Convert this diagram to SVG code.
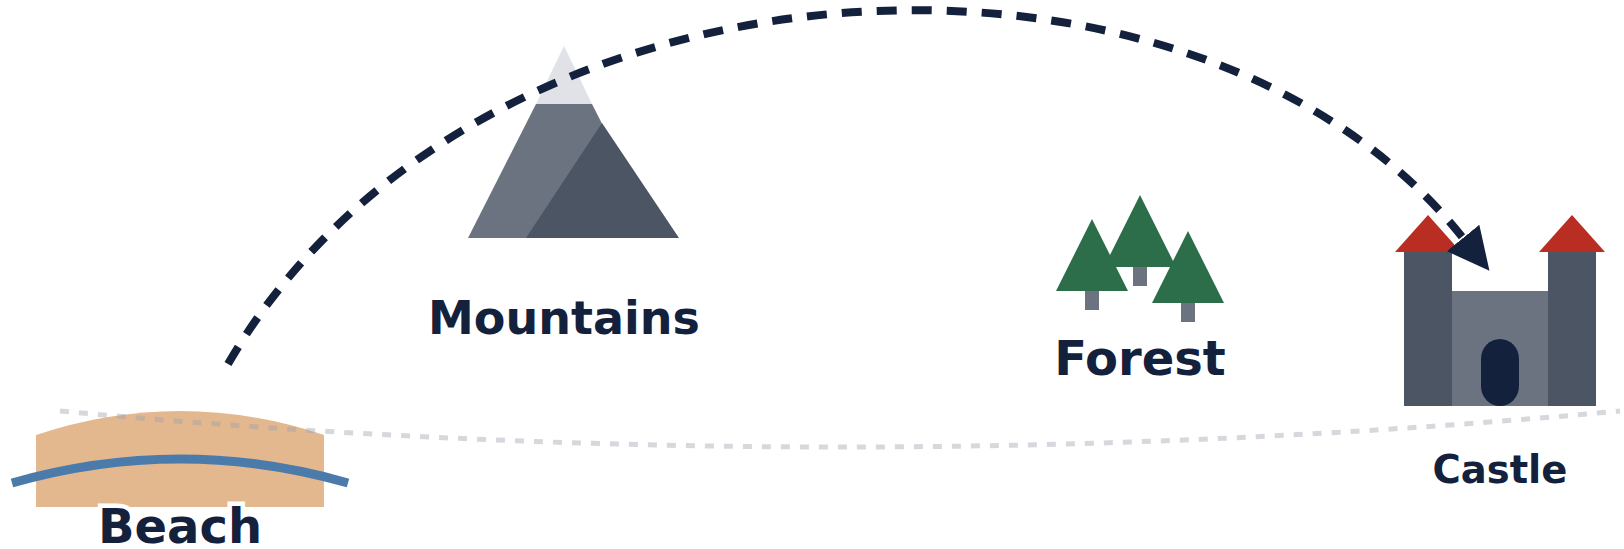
<svg xmlns="http://www.w3.org/2000/svg" width="1624" height="549" viewBox="0 0 1624 549">
  <style>
    text { font-family: "DejaVu Sans", "Liberation Sans", sans-serif; font-weight: 700; fill: #14213d; text-anchor: middle; }
    .lg { font-size: 48px; }
    .md { font-size: 46px; }
    .sm { font-size: 38.5px; }
    .leaf { fill: #2d6e4a; }
    .trunk { fill: #6b7280; }
    .tower { fill: #4b5563; }
    .roof { fill: #b92d22; }
  </style>
  <defs>
    <marker id="arrow" markerUnits="userSpaceOnUse" markerWidth="42" markerHeight="42" viewBox="0 0 10 10" refX="0" refY="5" orient="51">
      <path d="M0 0L10 5L0 10z" fill="#14213d"/>
    </marker>
  </defs>
  <rect width="1624" height="549" fill="#ffffff"/>
  <g id="beach">
    <path d="M36 435Q180 387 324 435V507H36z" fill="#e4b88f"/>
    <path d="M12 483Q180 435 348 483" fill="none" stroke="#4a7bab" stroke-width="9"/>
    <text class="lg" x="180" y="543" stroke="#ffffff" stroke-width="9" paint-order="stroke">Beach</text>
  </g>
  <g id="mountains">
    <path d="M536 104H592L660 238H468z" fill="#6b7280"/>
    <path d="M602 123L679 238H526z" fill="#4b5563"/>
    <path d="M564 46L592 104H536z" fill="#e0e2e7"/>
    <text class="md" x="564" y="334">Mountains</text>
  </g>
  <g id="forest">
    <rect class="trunk" x="1133" y="266" width="14" height="20"/>
    <path class="leaf" d="M1140 195L1176 267H1104z"/>
    <rect class="trunk" x="1085" y="290" width="14" height="20"/>
    <path class="leaf" d="M1092 219L1128 291H1056z"/>
    <rect class="trunk" x="1181" y="302" width="14" height="20"/>
    <path class="leaf" d="M1188 231L1224 303H1152z"/>
    <text class="lg" x="1140" y="375">Forest</text>
  </g>
  <g id="castle">
    <rect x="1452" y="291" width="96" height="115" fill="#6b7280"/>
    <rect class="tower" x="1404" y="252" width="48" height="154"/>
    <rect class="tower" x="1548" y="252" width="48" height="154"/>
    <path class="roof" d="M1428 215L1461 252H1395z"/>
    <path class="roof" d="M1572 215L1605 252H1539z"/>
    <rect x="1481" y="339" width="38" height="67" rx="19" ry="20" fill="#14213d"/>
    <text class="sm" x="1500" y="483">Castle</text>
  </g>
  <g id="connectors" fill="none">
    <path d="M60 411Q840 483 1620 411" stroke="#9ca3af" stroke-opacity="0.42" stroke-width="5" stroke-dasharray="9 10"/>
    <path d="M228 364C476 -65 1195 -100 1463 238" stroke="#14213d" stroke-width="8" stroke-dasharray="20 15" marker-end="url(#arrow)"/>
  </g>
</svg>
